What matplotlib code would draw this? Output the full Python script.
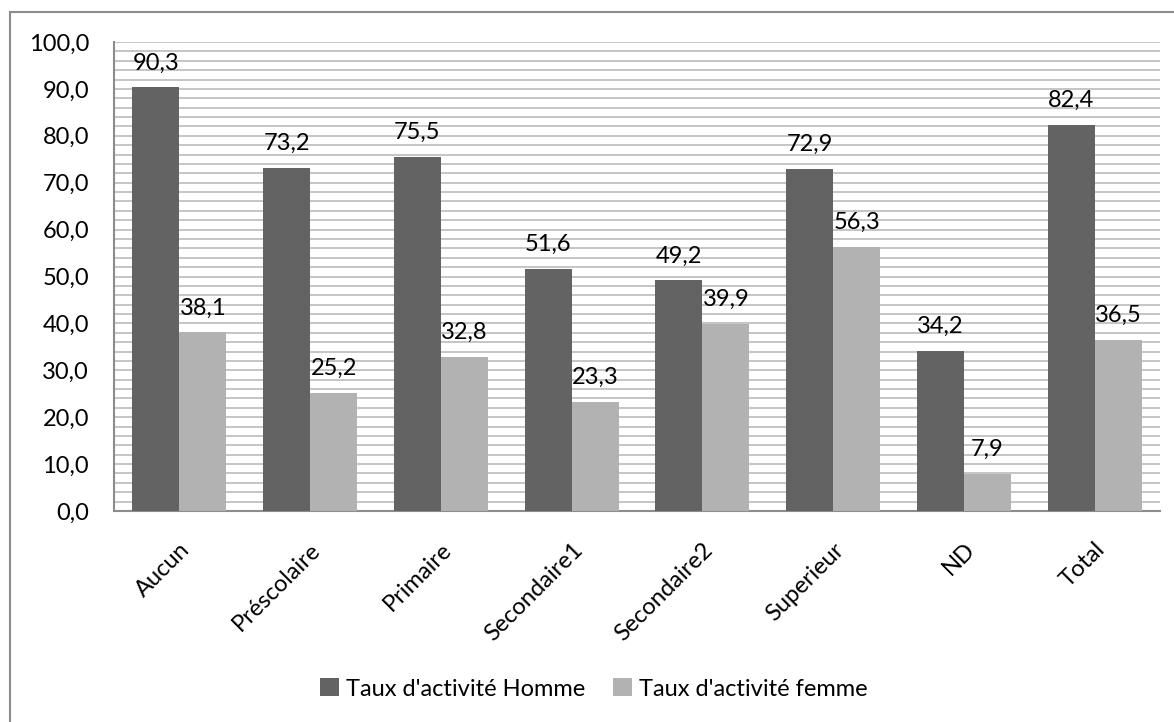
import numpy as np
import matplotlib.pyplot as plt
from matplotlib.patches import Rectangle

categories = ["Aucun", "Préscolaire", "Primaire", "Secondaire1", "Secondaire2",
              "Superieur", "ND", "Total"]
hommes = [90.3, 73.2, 75.5, 51.6, 49.2, 72.9, 34.2, 82.4]
femmes = [38.1, 25.2, 32.8, 23.3, 39.9, 56.3, 7.9, 36.5]
series_names = ["Taux d'activité Homme", "Taux d'activité femme"]

plt.rcParams['font.family'] = ['Lato', 'DejaVu Sans']
FS = 17

fig = plt.figure(figsize=(11.74, 7.22), dpi=100)
ax = fig.add_axes([114/1174, 1 - 511/722, (1160 - 114)/1174, (511 - 42)/722])

# outer chart border
fig.patches.append(Rectangle((10/1174, -0.1), 1.2, 1 - 12/722 + 0.1,
                             transform=fig.transFigure, fill=False,
                             edgecolor='#8c8c8c', linewidth=1.5))

x = np.arange(len(categories))
w = 0.36
b1 = ax.bar(x - w/2, hommes, w, color='#636363', label=series_names[0], zorder=3)
b2 = ax.bar(x + w/2, femmes, w, color='#b2b2b2', label=series_names[1], zorder=3)

fmt = lambda v: f"{v:.1f}".replace('.', ',')
for bars, vals in ((b1, hommes), (b2, femmes)):
    for r, v in zip(bars, vals):
        ax.annotate(fmt(v), (r.get_x() + r.get_width()/2, v), xytext=(0, 10),
                    textcoords='offset points', ha='center', va='bottom',
                    fontsize=FS, color='black')

ax.set_xlim(-0.5, len(categories) - 0.5)
ax.set_ylim(0, 100)
ax.set_yticks(np.arange(0, 101, 10))
ax.set_yticklabels([fmt(v) for v in np.arange(0, 101, 10)])
ax.set_yticks(np.arange(0, 101, 2), minor=True)
ax.grid(True, axis='y', which='both', color='#c0c0c0', linewidth=1.3, zorder=0)
ax.set_axisbelow(True)

ax.set_xticks(x)
ax.set_xticklabels(categories, rotation=45, ha='right', rotation_mode='anchor')
ax.tick_params(axis='x', length=0, pad=20, labelsize=FS)
ax.tick_params(axis='y', which='both', length=0, pad=18, labelsize=FS)

for s in ('top', 'right'):
    ax.spines[s].set_visible(False)
for s in ('left', 'bottom'):
    ax.spines[s].set_color('#8c8c8c')
    ax.spines[s].set_linewidth(1.5)

fig.legend(handles=[b1, b2], loc='center', bbox_to_anchor=(594/1174, 1 - 689/722),
           ncol=2, frameon=False, fontsize=FS, handlelength=0.8, handleheight=0.8,
           handletextpad=0.3, columnspacing=1.2)

fig.savefig('out.png', dpi=100)
